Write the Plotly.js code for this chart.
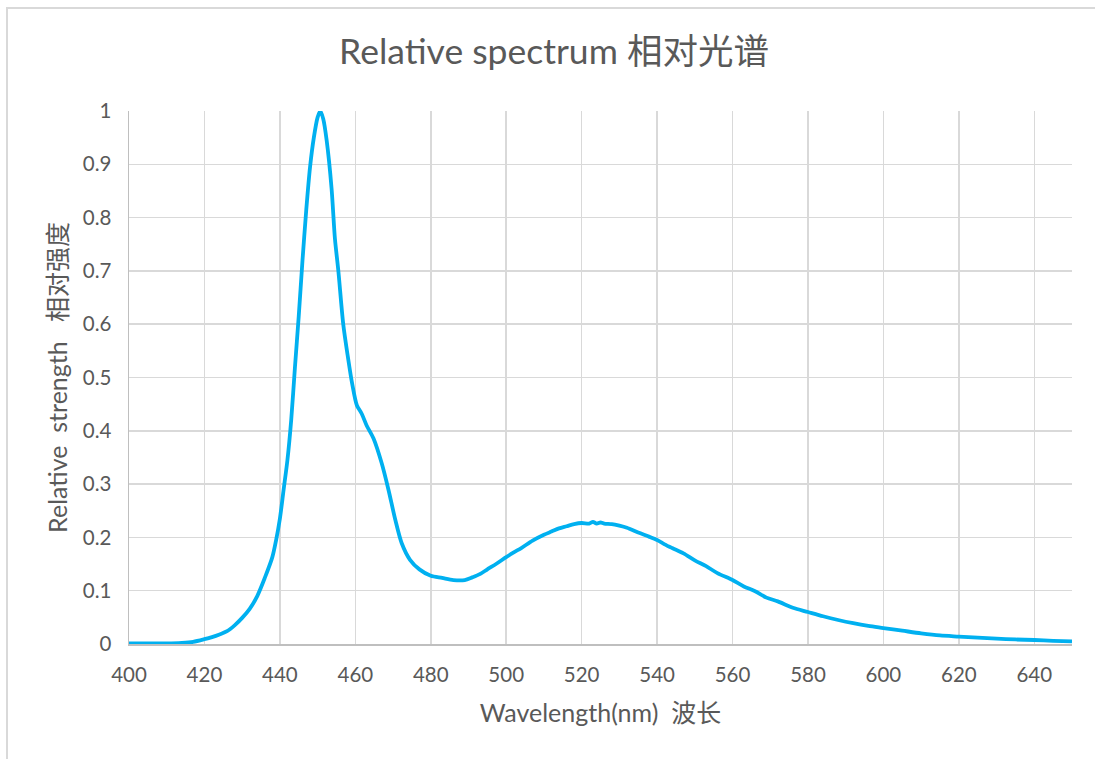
<!DOCTYPE html>
<html>
<head>
<meta charset="utf-8">
<script src="https://cdn.plot.ly/plotly-3.0.1.min.js"></script>
<style>
  html, body { margin: 0; padding: 0; background: #ffffff; }
  #frame { position: absolute; left: 6px; top: 7px; width: 1200px; height: 900px; border: 2px solid #d9d9d9; box-sizing: border-box; }
  #chart { position: absolute; left: 0; top: 0; width: 1095px; height: 759px; }
</style>
</head>
<body>
<div id="frame"></div>
<div id="chart"></div>
<script>
const wavelength = [
  400, 405, 410, 414, 417, 420, 422, 424, 426, 428,
  430, 432, 434, 436, 438, 439, 440, 441, 442, 443,
  444, 445, 446, 447, 448, 449, 450, 450.7, 451.5, 452.4,
  453.7, 454.6, 455.5, 456.8, 458, 459.2, 460.4, 461.7, 463, 464.8,
  467, 468.8, 470.6, 472.3, 474.5, 477, 480, 483, 486, 489,
  491, 493, 495, 497.5, 500, 502, 504, 507, 510, 512,
  514, 516, 518, 520, 522, 523, 524, 525, 526, 528,
  530, 532, 535, 538, 540, 542, 544, 547, 550, 553,
  556, 560, 563, 566, 569, 572, 576, 580, 584, 588,
  592, 596, 600, 605, 610, 615, 620, 625, 630, 635,
  640, 645, 650
];
const strength = [
  0.001, 0.001, 0.001, 0.002, 0.004, 0.009, 0.013, 0.018, 0.024, 0.035,
  0.049, 0.066, 0.090, 0.124, 0.163, 0.195, 0.235, 0.290, 0.345, 0.420,
  0.520, 0.615, 0.720, 0.815, 0.895, 0.950, 0.988, 1.000, 0.985, 0.945,
  0.855, 0.760, 0.700, 0.600, 0.540, 0.487, 0.448, 0.432, 0.410, 0.386,
  0.339, 0.289, 0.233, 0.189, 0.158, 0.140, 0.128, 0.124, 0.120, 0.120,
  0.125, 0.131, 0.140, 0.151, 0.163, 0.172, 0.180, 0.194, 0.205, 0.211,
  0.217, 0.221, 0.225, 0.227, 0.226, 0.229, 0.226, 0.228, 0.226, 0.225,
  0.222, 0.218, 0.209, 0.201, 0.195, 0.187, 0.180, 0.170, 0.157, 0.146,
  0.133, 0.120, 0.108, 0.099, 0.087, 0.080, 0.068, 0.060, 0.052, 0.045,
  0.039, 0.034, 0.030, 0.025, 0.020, 0.016, 0.014, 0.012, 0.010, 0.0085,
  0.0075, 0.006, 0.005
];
const xTickVals = [400, 420, 440, 460, 480, 500, 520, 540, 560, 580, 600, 620, 640];
const yTickVals = [0, 0.1, 0.2, 0.3, 0.4, 0.5, 0.6, 0.7, 0.8, 0.9, 1];
const yTickText = ['0', '0.1', '0.2', '0.3', '0.4', '0.5', '0.6', '0.7', '0.8', '0.9', '1'];

const FONT = 'Lato, "Noto Sans CJK SC", sans-serif';

const trace = {
  x: wavelength,
  y: strength,
  type: 'scatter',
  mode: 'lines',
  line: { color: '#00B0F0', width: 3.8, shape: 'spline', smoothing: 0.8 },
  hoverinfo: 'x+y'
};

const layout = {
  width: 1095,
  height: 759,
  paper_bgcolor: 'rgba(0,0,0,0)',
  plot_bgcolor: 'rgba(0,0,0,0)',
  margin: { l: 129, r: 23, t: 111, b: 115, pad: 0 },
  showlegend: false,
  font: { family: FONT, color: '#595959', size: 20 },
  title: {
    text: 'Relative spectrum 相对光谱',
    font: { family: FONT, size: 35.5, color: '#595959' },
    x: 554 / 1095, xanchor: 'center',
    y: 1 - 52 / 759, yanchor: 'middle'
  },
  xaxis: {
    range: [400, 650],
    tickmode: 'array',
    tickvals: xTickVals,
    ticks: '',
    showgrid: true,
    gridcolor: '#d9d9d9',
    gridwidth: 1.5,
    showline: true,
    linecolor: '#bfbfbf',
    linewidth: 1.5,
    zeroline: false,
    ticklabelstandoff: 12,
    tickfont: { family: FONT, size: 20.5, color: '#595959' },
    title: {
      text: 'Wavelength(nm)\u00a0\u00a0波长',
      font: { family: FONT, size: 25, color: '#595959' },
      standoff: 19
    }
  },
  yaxis: {
    range: [0, 1],
    tickmode: 'array',
    tickvals: yTickVals,
    ticktext: yTickText,
    ticks: '',
    showgrid: true,
    gridcolor: '#d9d9d9',
    gridwidth: 1.5,
    showline: true,
    linecolor: '#bfbfbf',
    linewidth: 1.5,
    zeroline: false,
    ticklabelstandoff: 12,
    tickfont: { family: FONT, size: 20.5, color: '#595959' },
    title: {
      text: 'Relative\u00a0\u00a0strength\u00a0\u00a0\u00a0相对强度',
      font: { family: FONT, size: 25, color: '#595959' },
      standoff: 8
    }
  }
};

Plotly.newPlot('chart', [trace], layout, { displayModeBar: false, staticPlot: true });
</script>
</body>
</html>
